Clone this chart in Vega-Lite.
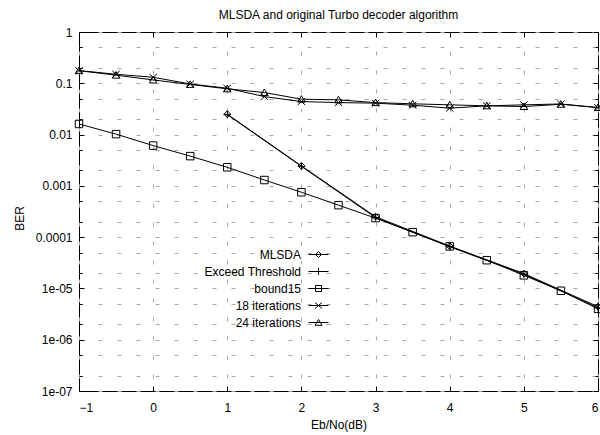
{
  "$schema": "https://vega.github.io/schema/vega-lite/v6.json",
  "width": 519,
  "height": 359,
  "autosize": {"type": "none"},
  "padding": {"left": 79, "top": 32, "right": 2, "bottom": 44},
  "background": "white",
  "config": {
    "view": {"stroke": "black", "strokeWidth": 1},
    "font": "Liberation Sans",
    "axis": {"labelFont": "Liberation Sans", "titleFont": "Liberation Sans", "labelColor": "black", "titleColor": "black", "labelFontSize": 12, "titleFontSize": 12, "titleFontWeight": "normal", "domain": false, "tickColor": "black", "tickWidth": 1, "gridColor": "#a8a8a8", "gridDash": [4, 15], "gridWidth": 1, "gridOpacity": 1}
  },
  "title": {"text": "MLSDA and original Turbo decoder algorithm", "font": "Liberation Sans", "fontSize": 12, "fontWeight": "normal", "color": "black", "anchor": "middle", "frame": "group", "baseline": "alphabetic", "offset": -4.5},
  "data": {"values": [
    {"series": "MLSDA", "x": 1, "ber": 0.025},
    {"series": "MLSDA", "x": 2, "ber": 0.00245},
    {"series": "MLSDA", "x": 3, "ber": 0.00025},
    {"series": "MLSDA", "x": 4, "ber": 0.000067},
    {"series": "MLSDA", "x": 5, "ber": 0.0000195},
    {"series": "MLSDA", "x": 6, "ber": 0.0000044},
    {"series": "Exceed Threshold", "x": 1, "ber": 0.0245},
    {"series": "Exceed Threshold", "x": 2, "ber": 0.0024},
    {"series": "Exceed Threshold", "x": 3, "ber": 0.00024},
    {"series": "Exceed Threshold", "x": 4, "ber": 0.000065},
    {"series": "Exceed Threshold", "x": 5, "ber": 0.000019},
    {"series": "Exceed Threshold", "x": 6, "ber": 0.0000042},
    {"series": "bound15", "x": -1, "ber": 0.0161},
    {"series": "bound15", "x": -0.5, "ber": 0.0102},
    {"series": "bound15", "x": 0, "ber": 0.0061},
    {"series": "bound15", "x": 0.5, "ber": 0.0038},
    {"series": "bound15", "x": 1, "ber": 0.0023},
    {"series": "bound15", "x": 1.5, "ber": 0.0013},
    {"series": "bound15", "x": 2, "ber": 0.00075},
    {"series": "bound15", "x": 2.5, "ber": 0.00042},
    {"series": "bound15", "x": 3, "ber": 0.000235},
    {"series": "bound15", "x": 3.5, "ber": 0.000125},
    {"series": "bound15", "x": 4, "ber": 0.000066},
    {"series": "bound15", "x": 4.5, "ber": 0.0000355},
    {"series": "bound15", "x": 5, "ber": 0.000018},
    {"series": "bound15", "x": 5.5, "ber": 0.000009},
    {"series": "bound15", "x": 6, "ber": 0.000004},
    {"series": "18 iterations", "x": -1, "ber": 0.177},
    {"series": "18 iterations", "x": -0.5, "ber": 0.15},
    {"series": "18 iterations", "x": 0, "ber": 0.131},
    {"series": "18 iterations", "x": 0.5, "ber": 0.097},
    {"series": "18 iterations", "x": 1, "ber": 0.08},
    {"series": "18 iterations", "x": 1.5, "ber": 0.055},
    {"series": "18 iterations", "x": 2, "ber": 0.044},
    {"series": "18 iterations", "x": 2.5, "ber": 0.042},
    {"series": "18 iterations", "x": 3, "ber": 0.041},
    {"series": "18 iterations", "x": 3.5, "ber": 0.0374},
    {"series": "18 iterations", "x": 4, "ber": 0.0327},
    {"series": "18 iterations", "x": 4.5, "ber": 0.0363},
    {"series": "18 iterations", "x": 5, "ber": 0.038},
    {"series": "18 iterations", "x": 5.5, "ber": 0.0395},
    {"series": "18 iterations", "x": 6, "ber": 0.0335},
    {"series": "24 iterations", "x": -1, "ber": 0.176},
    {"series": "24 iterations", "x": -0.5, "ber": 0.144},
    {"series": "24 iterations", "x": 0, "ber": 0.116},
    {"series": "24 iterations", "x": 0.5, "ber": 0.095},
    {"series": "24 iterations", "x": 1, "ber": 0.078},
    {"series": "24 iterations", "x": 1.5, "ber": 0.066},
    {"series": "24 iterations", "x": 2, "ber": 0.049},
    {"series": "24 iterations", "x": 2.5, "ber": 0.0475},
    {"series": "24 iterations", "x": 3, "ber": 0.042},
    {"series": "24 iterations", "x": 3.5, "ber": 0.0398},
    {"series": "24 iterations", "x": 4, "ber": 0.038},
    {"series": "24 iterations", "x": 4.5, "ber": 0.0363},
    {"series": "24 iterations", "x": 5, "ber": 0.0352},
    {"series": "24 iterations", "x": 5.5, "ber": 0.039},
    {"series": "24 iterations", "x": 6, "ber": 0.0337}
  ]},
  "layer": [
    {
      "mark": {"type": "line", "color": "black", "strokeWidth": 1},
      "encoding": {
        "x": {"field": "x", "type": "quantitative", "scale": {"domain": [-1, 6], "nice": false, "zero": false},
          "axis": {"orient": "bottom", "values": [-1, 0, 1, 2, 3, 4, 5, 6], "format": "d", "tickSize": -5, "labelPadding": 16, "grid": true, "title": "Eb/No(dB)", "titleY": 37, "titleBaseline": "alphabetic"}},
        "y": {"field": "ber", "type": "quantitative", "scale": {"type": "log", "domain": [0.0000001, 1], "nice": false, "zero": false},
          "axis": {"orient": "left", "grid": true, "title": "BER", "titleX": -60, "titleY": 186, "titleAngle": -90, "titleBaseline": "middle", "titleAlign": "center",
            "values": [1, 0.5, 0.2, 0.1, 0.05, 0.02, 0.01, 0.005, 0.002, 0.001, 0.0005, 0.0002, 0.0001, 0.00005, 0.00002, 0.00001, 0.000005, 0.000002, 0.000001, 0.0000005, 0.0000002, 0.0000001],
            "labelExpr": "datum.value === 1 ? '1' : datum.value === 0.1 ? '0.1' : datum.value === 0.01 ? '0.01' : datum.value === 0.001 ? '0.001' : datum.value === 0.0001 ? '0.0001' : datum.value === 0.00001 ? '1e-05' : datum.value === 0.000001 ? '1e-06' : datum.value === 0.0000001 ? '1e-07' : ''",
            "tickSize": {"condition": {"test": "indexof([1, 0.1, 0.01, 0.001, 0.0001, 0.00001, 0.000001, 0.0000001], datum.value) >= 0", "value": -5}, "value": -3},
            "labelPadding": 12}},
        "detail": {"field": "series"}
      }
    },
    {
      "mark": {"type": "point", "filled": false, "color": "black", "size": 56, "strokeWidth": 1, "opacity": 1},
      "encoding": {
        "x": {"field": "x", "type": "quantitative", "axis": {"orient": "top", "values": [-1, 0, 1, 2, 3, 4, 5, 6], "labels": false, "tickSize": -5, "grid": false, "title": null}},
        "y": {"field": "ber", "type": "quantitative", "axis": {"orient": "right", "labels": false, "grid": false, "title": null,
            "values": [1, 0.5, 0.2, 0.1, 0.05, 0.02, 0.01, 0.005, 0.002, 0.001, 0.0005, 0.0002, 0.0001, 0.00005, 0.00002, 0.00001, 0.000005, 0.000002, 0.000001, 0.0000005, 0.0000002, 0.0000001],
            "tickSize": {"condition": {"test": "indexof([1, 0.1, 0.01, 0.001, 0.0001, 0.00001, 0.000001, 0.0000001], datum.value) >= 0", "value": -5}, "value": -3}}},
        "shape": {"field": "series", "type": "nominal",
          "scale": {"domain": ["MLSDA", "Exceed Threshold", "bound15", "18 iterations", "24 iterations"],
            "range": ["M-0.9,0L0,-0.9L0.9,0L0,0.9Z", "M-1,0H1M0,-1V1", "M-1,-1H1V1H-1Z", "M-1,-0.9L1,0.9M-1,0.9L1,-0.9", "M-1,0.8L0,-0.95L1,0.8Z"]},
          "legend": null}
      }
    },
    {
      "transform": [{"filter": "false"}],
      "mark": {"type": "point", "filled": false, "color": "black", "size": 400, "strokeWidth": 1, "opacity": 1},
      "encoding": {
        "x": {"field": "x", "type": "quantitative", "axis": null},
        "y": {"field": "ber", "type": "quantitative", "axis": null},
        "shape": {"field": "series", "type": "nominal",
          "scale": {"domain": ["MLSDA", "Exceed Threshold", "bound15", "18 iterations", "24 iterations"],
            "range": ["M-1,0H1M-0.3,0L0,-0.3L0.3,0L0,0.3Z", "M-1,0H1M0,-0.35V0.35", "M-1,0H1M-0.3,-0.3H0.3V0.3H-0.3Z", "M-1,0H1M-0.35,-0.3L0.35,0.3M-0.35,0.3L0.35,-0.3", "M-1,0H1M-0.35,0.28L0,-0.3L0.35,0.28Z"]},
          "legend": {"orient": "none", "legendX": 229, "legendY": 212, "padding": 0, "title": null, "symbolSize": 400, "rowPadding": -11,
            "labelAlign": "right", "labelOffset": -28, "labelFontSize": 12, "labelFont": "Liberation Sans", "labelColor": "black", "symbolStrokeWidth": 1, "symbolStrokeColor": "black", "symbolFillColor": "transparent", "symbolOpacity": 1,
            "encode": {"symbols": {"update": {"size": {"value": 400}, "stroke": {"value": "black"}, "strokeWidth": {"value": 1}, "opacity": {"value": 1}}}}}}
      }
    }
  ],
  "resolve": {"axis": {"x": "independent", "y": "independent"}, "scale": {"shape": "independent"}}
}
